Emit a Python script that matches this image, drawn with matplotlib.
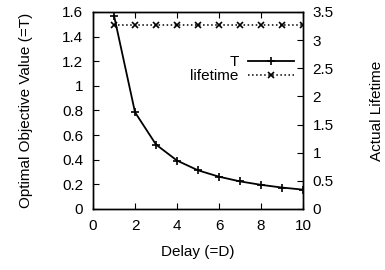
import numpy as np
import matplotlib
matplotlib.use('Agg')
import matplotlib.pyplot as plt

## data
delay = [1, 2, 3, 4, 5, 6, 7, 8, 9, 10]
t_value = [1.57, 0.785, 0.523, 0.393, 0.314, 0.262, 0.224, 0.196, 0.174, 0.157]
lifetime = [3.27, 3.27, 3.27, 3.27, 3.27, 3.27, 3.27, 3.27, 3.27, 3.27]

plt.rcParams['font.family'] = ['Liberation Sans', 'DejaVu Sans']
plt.rcParams['font.size'] = 11

fig = plt.figure(figsize=(3.85, 2.7), dpi=100)
ax1 = fig.add_axes([0.2416, 0.226, 0.787 - 0.2416, 0.956 - 0.226])
ax2 = ax1.twinx()

l1, = ax1.plot(delay, t_value, color='black', lw=1.3, marker='+', ms=6, mew=1.2, label='T')
l2, = ax2.plot(delay, lifetime, color='black', lw=1.1, ls=':', marker='x', ms=5, mew=1.2, label='lifetime')

ax1.set_xlim(0, 10)
ax1.set_ylim(0, 1.6)
ax2.set_ylim(0, 3.5)
ax1.set_xticks(np.arange(0, 11, 2))
ax1.set_yticks(np.arange(0, 1.61, 0.2))
ax1.set_yticklabels(['0', '0.2', '0.4', '0.6', '0.8', '1', '1.2', '1.4', '1.6'])
ax2.set_yticks(np.arange(0, 3.51, 0.5))
ax2.set_yticklabels(['0', '0.5', '1', '1.5', '2', '2.5', '3', '3.5'])

ax1.tick_params(axis='x', direction='in', top=True, length=4, pad=7)
ax1.tick_params(axis='y', direction='in', length=4, pad=7)
ax2.tick_params(axis='y', direction='in', length=4, pad=7)

ax1.set_xlabel('Delay (=D)', labelpad=9)
ax1.set_ylabel('Optimal Objective Value (=T)', labelpad=21)
ax2.set_ylabel('Actual Lifetime', labelpad=26)

for sp in list(ax1.spines.values()) + list(ax2.spines.values()):
    sp.set_linewidth(1.0)

ax1.legend(handles=[l1, l2], loc='upper right', bbox_to_anchor=(0.955, 0.78),
           frameon=False, markerfirst=False, handlelength=3.0,
           handletextpad=0.6, labelspacing=0.0, borderpad=0.0, borderaxespad=0.0)

fig.savefig('out.png', dpi=100)
